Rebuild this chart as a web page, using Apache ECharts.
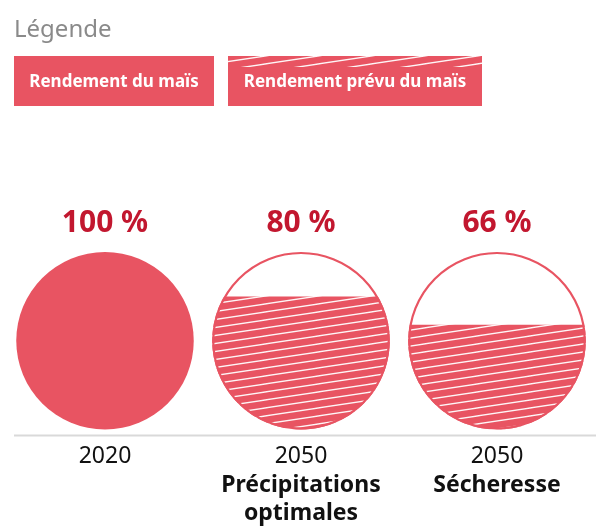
<!DOCTYPE html>
<html>
<head>
<meta charset="utf-8">
<script src="https://cdn.jsdelivr.net/npm/echarts@6/dist/echarts.min.js"></script>
<style>
html,body{margin:0;padding:0;background:#fff;}
#chart{width:596px;height:528px;}
</style>
</head>
<body>
<div id="chart"></div>
<script>
// ---- data ----
const years = ['2020', '2050', '2050'];
const scenarios = ['', 'Précipitations\noptimales', 'Sécheresse'];
const yieldPct = [100, 80, 66];          // printed yield share
const fillLevel = [100, 75, 59];         // fill height as % of circle height
const hatched = [false, true, true];
const legendTitle = 'Légende';
const legendItems = ['Rendement du maïs', 'Rendement prévu du maïs'];

// ---- style ----
const RED = '#e85462';
const DARK = '#c2172f';
const FONT = '"Noto Sans", "Open Sans", sans-serif';

function makePattern() {
  const W = 53, H = 8;
  const c = document.createElement('canvas');
  c.width = W; c.height = H;
  const ctx = c.getContext('2d');
  ctx.fillStyle = RED;
  ctx.fillRect(0, 0, W, H);
  ctx.strokeStyle = 'rgba(255,255,255,0.95)';
  ctx.lineWidth = 1.3;
  for (let k = -1; k <= 1; k++) {
    ctx.beginPath();
    ctx.moveTo(-W, 2 * H + k * H);
    ctx.lineTo(2 * W, -H + k * H);
    ctx.stroke();
  }
  return c;
}
const patternCanvas = makePattern();
const hatchFill = { image: patternCanvas, repeat: 'repeat' };

const categories = years.map((y, i) => scenarios[i] ? y + '\n' + scenarios[i] : y);
const seriesData = categories.map((c, i) => [i, fillLevel[i], yieldPct[i], hatched[i] ? 1 : 0]);

const chart = echarts.init(document.getElementById('chart'), null, { renderer: 'canvas' });

function renderItem(params, api) {
  const idx = api.value(0);
  const level = api.value(1);
  const pct = api.value(2);
  const isHatch = api.value(3) === 1;
  const bottom = api.coord([idx, 0]);
  const top = api.coord([idx, 100]);
  const cx = bottom[0];
  const r = (bottom[1] - top[1]) / 2;
  const cy = (bottom[1] + top[1]) / 2;
  const yf = api.coord([idx, level])[1];
  const children = [];
  if (!isHatch) {
    children.push({ type: 'circle', shape: { cx, cy, r }, style: { fill: RED } });
  } else {
    children.push({ type: 'circle', shape: { cx, cy, r }, style: { fill: '#fff' } });
    const d = yf - cy;
    const a0 = Math.asin(Math.max(-1, Math.min(1, d / r)));
    const pts = [];
    const N = 160;
    for (let k = 0; k <= N; k++) {
      const t = a0 + (Math.PI - 2 * a0) * k / N;
      pts.push([cx + r * Math.cos(t), cy + r * Math.sin(t)]);
    }
    children.push({ type: 'polygon', shape: { points: pts }, style: { fill: hatchFill } });
    children.push({ type: 'circle', shape: { cx, cy, r: r - 1 }, style: { fill: null, stroke: RED, lineWidth: 2.2 } });
  }
  children.push({
    type: 'text',
    style: {
      x: cx, y: top[1] - 29, text: pct + ' %',
      fill: DARK, font: 'bold 30px ' + FONT,
      align: 'center', verticalAlign: 'middle'
    }
  });
  return { type: 'group', children };
}

const option = {
  animation: false,
  grid: { left: 7, right: 1, top: 252, bottom: 93, containLabel: false },
  xAxis: {
    type: 'category',
    data: categories,
    axisLine: { show: false },
    axisTick: { show: false },
    axisLabel: {
      margin: 13,
      interval: 0,
      color: '#111',
      fontFamily: FONT,
      fontSize: 23,
      lineHeight: 28.5,
      formatter: function (v) {
        const parts = v.split('\n');
        return parts.map((p, i) => i === 0 ? p : '{b|' + p + '}').join('\n');
      },
      rich: {
        b: { fontWeight: 'bold', fontSize: 23, lineHeight: 28.5, fontFamily: FONT, color: '#111' }
      }
    }
  },
  yAxis: { type: 'value', min: 0, max: 100, show: false },
  series: [{
    type: 'custom',
    renderItem: renderItem,
    data: seriesData,
    clip: false
  }],
  graphic: [
    { type: 'line', shape: { x1: 14, y1: 435.5, x2: 596, y2: 435.5 }, style: { stroke: '#d9d9d9', lineWidth: 2 }, z: -1 },
    { type: 'text', style: { x: 14, y: 30, text: legendTitle, fill: '#8a8a8a', font: '24px ' + FONT, verticalAlign: 'middle' } },
    { type: 'rect', shape: { x: 14, y: 56, width: 200, height: 50 }, style: { fill: RED } },
    { type: 'text', style: { x: 114, y: 82, text: legendItems[0], fill: '#fff', font: 'bold 17px ' + FONT, align: 'center', verticalAlign: 'middle' } },
    { type: 'rect', shape: { x: 228, y: 56, width: 254, height: 50 }, style: { fill: RED } },
    { type: 'rect', shape: { x: 228, y: 56, width: 254, height: 11 }, style: { fill: hatchFill } },
    { type: 'text', style: { x: 355, y: 82, text: legendItems[1], fill: '#fff', font: 'bold 17px ' + FONT, align: 'center', verticalAlign: 'middle' } }
  ]
};
chart.setOption(option);
</script>
</body>
</html>
